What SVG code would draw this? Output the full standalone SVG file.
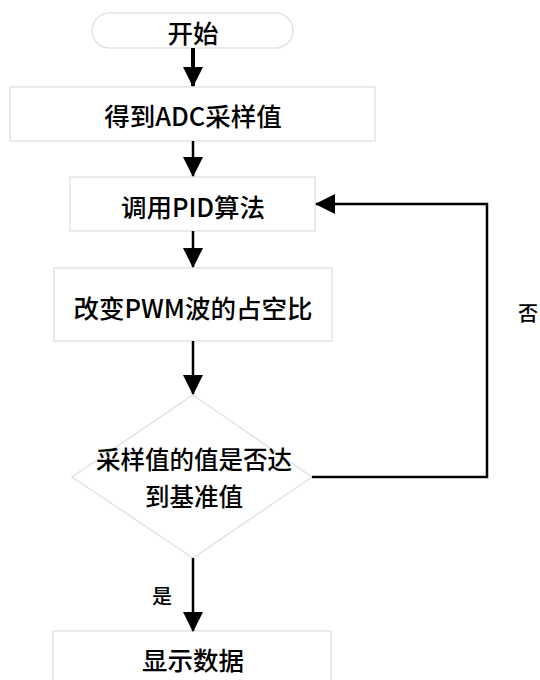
<svg xmlns="http://www.w3.org/2000/svg" width="540" height="680" viewBox="0 0 540 680">
<defs>
<style>
.box{fill:#fff;stroke:#e3e3e3;stroke-width:1.5}
.t{font-family:"Noto Sans CJK SC","Microsoft YaHei",sans-serif;font-size:25.5px;font-weight:500;fill:#000;text-anchor:middle;dominant-baseline:central}
.d{font-size:24.5px}
.lbl{font-family:"Noto Sans CJK SC",sans-serif;font-size:20px;font-weight:500;fill:#000;text-anchor:middle;dominant-baseline:central}
.c{fill:none;stroke:#000;stroke-width:2.5}
</style>
<marker id="ah" markerUnits="userSpaceOnUse" markerWidth="20" markerHeight="20" viewBox="0 0 20 20" refX="19" refY="10" orient="auto">
<path d="M0,0 L20,10 L0,20 Z" fill="#000"/>
</marker>
</defs>
<rect width="540" height="680" fill="#fff"/>
<g id="start">
<rect class="box" x="92" y="13" width="201" height="35" rx="17.5"/>
<text class="t" x="193" y="31">开始</text>
</g>
<g id="adc">
<rect class="box" x="10" y="87" width="365" height="54"/>
<text class="t" x="193" y="114">得到ADC采样值</text>
</g>
<g id="pid">
<rect class="box" x="70" y="177" width="245" height="54"/>
<text class="t" x="193" y="205">调用PID算法</text>
</g>
<g id="pwm">
<rect class="box" x="54" y="268" width="278" height="73"/>
<text class="t" x="193" y="306">改变PWM波的占空比</text>
</g>
<g id="decision">
<polygon class="box" points="193,395 312,477 193,558 72,477"/>
<text class="t d" x="194" y="458">采样值的值是否达</text>
<text class="t d" x="194" y="495">到基准值</text>
</g>
<g id="display">
<rect class="box" x="53" y="631" width="278" height="60"/>
<text class="t" x="193" y="658">显示数据</text>
</g>
<g id="connectors">
<line class="c" x1="193" y1="48" x2="193" y2="86" style="stroke-width:4" marker-end="url(#ah)"/>
<line class="c" x1="193" y1="141" x2="193" y2="176" marker-end="url(#ah)"/>
<line class="c" x1="193" y1="231" x2="193" y2="267" marker-end="url(#ah)"/>
<line class="c" x1="193" y1="341" x2="193" y2="394" marker-end="url(#ah)"/>
<line class="c" x1="193" y1="558" x2="193" y2="631" marker-end="url(#ah)"/>
<polyline class="c" points="312,477 487,477 487,204 316,204" marker-end="url(#ah)"/>
<text class="lbl" x="162" y="595">是</text>
<text class="lbl" x="528" y="312">否</text>
</g>
</svg>
